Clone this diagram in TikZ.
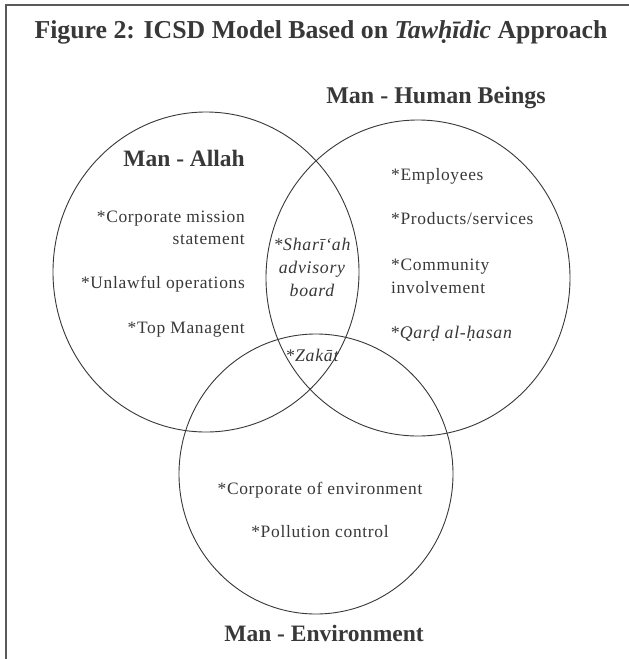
\documentclass[tikz,border=0pt]{standalone}
\usepackage{fontspec}
\setmainfont{Liberation Serif}
\newfontfamily\itemfont[LetterSpace=4]{Liberation Serif}
\definecolor{ink}{HTML}{383838}
\begin{document}
\begin{tikzpicture}[x=1pt,y=-1pt,
  ring/.style={draw=ink,line width=0.9pt},
  head/.style={inner sep=0pt,text=ink,font=\fontsize{23.5}{26}\selectfont\bfseries},
  lbl/.style={inner sep=0pt,text=ink,font=\fontsize{17.4}{20}\selectfont\itemfont},
  ilbl/.style={inner sep=0pt,text=ink,font=\fontsize{17.8}{20}\selectfont\itemfont\itshape}]
\useasboundingbox (0,0) rectangle (629,659);
\fill[white] (0,0) rectangle (629,659);
% frame
\draw[gray!70!black,line width=1.6pt] (6,659) -- (6,5) -- (629,5);
% title
\node[head,anchor=base,font=\fontsize{25.8}{28}\selectfont\bfseries] (title) at (321,38)
  {Figure 2: ICSD Model Based on \textit{Tawḥīdic} Approach};
% circles
\draw[ring] (206,272) ellipse [x radius=153pt, y radius=160pt];
\draw[ring] (418,278) ellipse [x radius=152pt, y radius=158pt];
\draw[ring] (316,474) ellipse [x radius=137pt, y radius=140pt];
% headings
\node[head,anchor=base,font=\fontsize{24}{26}\selectfont\bfseries] (hb) at (436,103) {Man - Human Beings};
\node[head,anchor=base east] (al) at (245,166) {Man - Allah};
\node[head,anchor=base] (en) at (324,641) {Man - Environment};
% left items
\node[lbl,anchor=base east] (l1) at (245,222) {*Corporate mission};
\node[lbl,anchor=base east] (l2) at (245,244) {statement};
\node[lbl,anchor=base east] (l3) at (245,288) {*Unlawful operations};
\node[lbl,anchor=base east] (l4) at (245,333) {*Top Managent};
% lens
\node[ilbl,anchor=base] (s1) at (312,250) {*Sharī‘ah};
\node[ilbl,anchor=base] (s2) at (312,273) {advisory};
\node[ilbl,anchor=base] (s3) at (312,296) {board};
\node[ilbl,anchor=base] (z) at (312,361) {*Zakāt};
% right items
\node[lbl,anchor=base west] (r1) at (391,180) {*Employees};
\node[lbl,anchor=base west] (r2) at (391,224) {*Products/services};
\node[lbl,anchor=base west] (r3) at (391,270) {*Community};
\node[lbl,anchor=base west] (r4) at (391,293) {involvement};
\node[ilbl,anchor=base west] (r5) at (390,338) {*Qarḍ al-ḥasan};
% bottom items
\node[lbl,anchor=base] (b1) at (320,494) {*Corporate of environment};
\node[lbl,anchor=base] (b2) at (320,537) {*Pollution control};
\end{tikzpicture}
\end{document}
